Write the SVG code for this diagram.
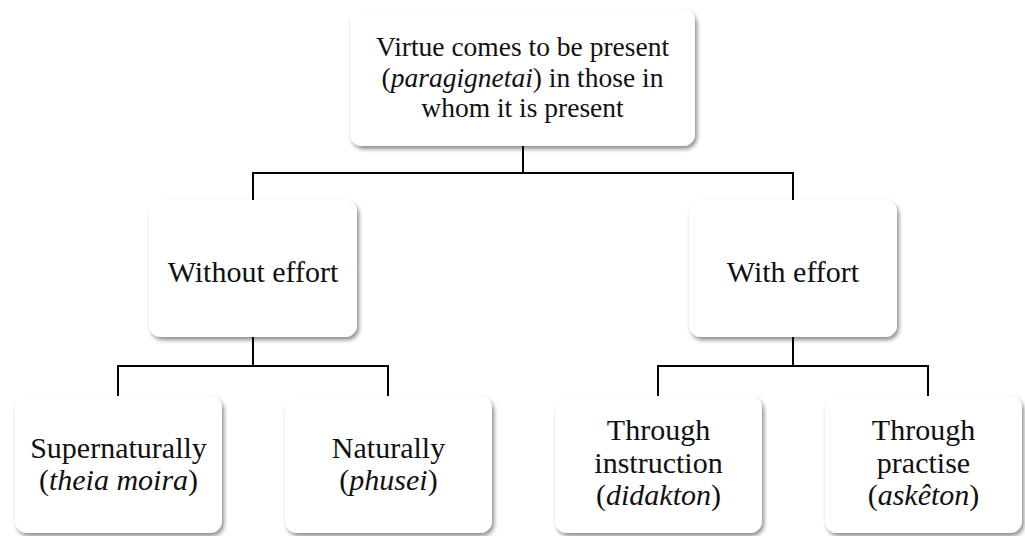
<svg xmlns="http://www.w3.org/2000/svg" width="1025" height="536" viewBox="0 0 1025 536" font-family="'Liberation Serif', 'DejaVu Serif', serif">
<defs>
<filter id="sh" x="-10%" y="-10%" width="125%" height="130%">
<feDropShadow dx="2" dy="3" stdDeviation="2.2" flood-color="#000" flood-opacity="0.45"/>
</filter>
<style>
.box{fill:#fff;filter:url(#sh)}
.t{font-family:'Liberation Serif','DejaVu Serif',serif;fill:#111;text-anchor:middle}
.top{font-size:27.5px}
.mid{font-size:30px}
.bot{font-size:30px}
.c{fill:none;stroke:#000;stroke-width:2}
</style>
</defs>
<rect width="1025" height="536" fill="#fff"/>
<g id="connectors">
<path class="c" d="M523 146V173M253 200V173H793V200"/>
<path class="c" d="M253 337V366M118 397V366H388V397"/>
<path class="c" d="M793 337V366M658 397V366H928V397"/>
</g>
<g id="n-root">
<rect class="box" x="350" y="9" width="345" height="137" rx="12"/>
<text class="t top" x="522.5"><tspan x="522.5" y="56">Virtue comes to be present</tspan><tspan x="522.5" y="87">(<tspan font-style="italic">paragignetai</tspan>) in those in</tspan><tspan x="522.5" y="117">whom it is present</tspan></text>
</g>
<g id="n-without">
<rect class="box" x="149" y="200" width="208" height="137" rx="12"/>
<text class="t mid" x="253" y="282">Without effort</text>
</g>
<g id="n-with">
<rect class="box" x="689" y="200" width="208" height="137" rx="12"/>
<text class="t mid" x="793" y="282">With effort</text>
</g>
<g id="n-super">
<rect class="box" x="15" y="396" width="207" height="137" rx="12"/>
<text class="t bot"><tspan x="118.5" y="458">Supernaturally</tspan><tspan x="118.5" y="490">(<tspan font-style="italic">theia moira</tspan>)</tspan></text>
</g>
<g id="n-nat">
<rect class="box" x="285" y="396" width="207" height="137" rx="12"/>
<text class="t bot"><tspan x="388.5" y="458">Naturally</tspan><tspan x="388.5" y="490">(<tspan font-style="italic">phusei</tspan>)</tspan></text>
</g>
<g id="n-instr">
<rect class="box" x="555" y="396" width="207" height="137" rx="12"/>
<text class="t bot"><tspan x="658.5" y="440">Through</tspan><tspan x="658.5" y="473">instruction</tspan><tspan x="658.5" y="505">(<tspan font-style="italic">didakton</tspan>)</tspan></text>
</g>
<g id="n-pract">
<rect class="box" x="825" y="396" width="197" height="137" rx="12"/>
<text class="t bot"><tspan x="923.5" y="440">Through</tspan><tspan x="923.5" y="473">practise</tspan><tspan x="923.5" y="505">(<tspan font-style="italic">askêton</tspan>)</tspan></text>
</g>
</svg>
